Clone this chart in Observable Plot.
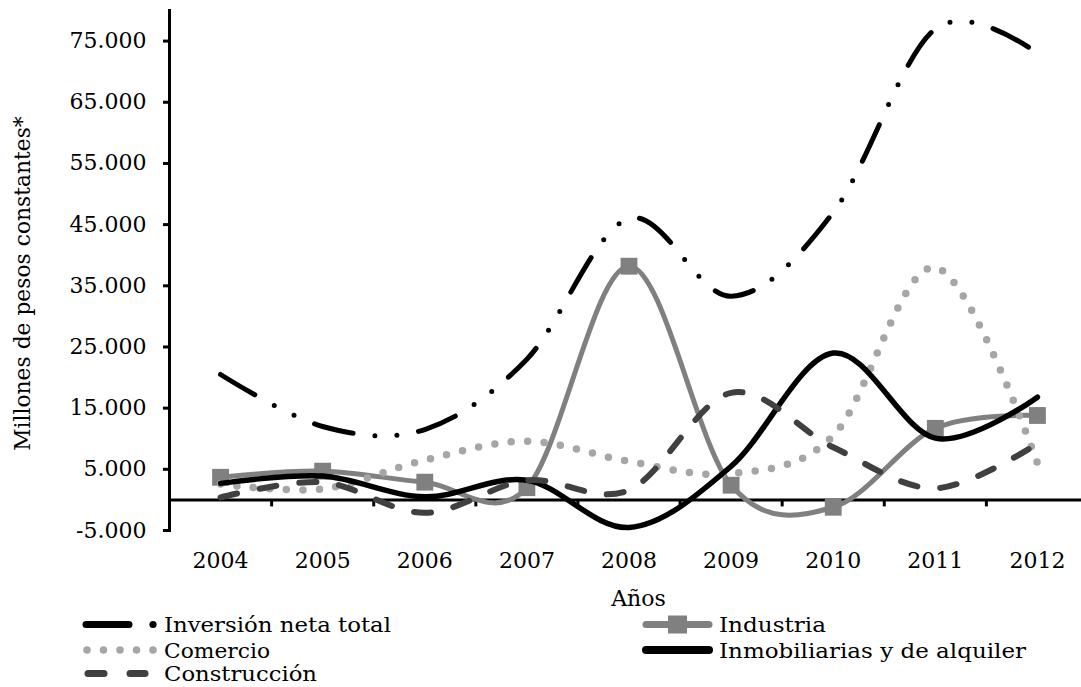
<!DOCTYPE html>
<html><head><meta charset="utf-8">
<script src="https://cdn.jsdelivr.net/npm/d3@7"></script>
<script src="https://cdn.jsdelivr.net/npm/@observablehq/plot@0.6"></script>
<style>
body{margin:0;background:#fff;}
#chart svg{display:block;}
</style></head><body><div id="chart"></div>
<script>
// ---- Data (millones de pesos constantes) ----
const years = [2004, 2005, 2006, 2007, 2008, 2009, 2010, 2011, 2012];
const inversionNetaTotal = [20500, 12000, 11500, 23000, 46000, 33300, 47000, 77000, 73000];
const industria = [3700, 4700, 2900, 2000, 38200, 2400, -1200, 11700, 13800];
const comercio = [2600, 1800, 6500, 9600, 6300, 4300, 10500, 38000, 6000];
const inmobiliarias = [2700, 3900, 500, 3200, -4500, 5500, 24000, 10100, 16800];
const construccion = [400, 2900, -2100, 3200, 1600, 17500, 8600, 1900, 9200];
const seriesNames = ["Inversión neta total", "Industria", "Comercio", "Inmobiliarias y de alquiler", "Construcción"];
const yTickValues = [-5000, 5000, 15000, 25000, 35000, 45000, 55000, 65000, 75000];
const yTickLabels = ["-5.000", "5.000", "15.000", "25.000", "35.000", "45.000", "55.000", "65.000", "75.000"];
const xTitle = "Años";
const yTitle = "Millones de pesos constantes*";

const toRows = (vals) => years.map((year, i) => ({year, value: vals[i]}));
const boundaries = years.slice(1).map(y => y - 0.5);
const FONT = "DejaVu Serif";

const chart = Plot.plot({
  width: 1081, height: 612,
  marginLeft: 169, marginTop: 10, marginBottom: 82, marginRight: 0,
  style: {fontFamily: FONT, background: "#fff", color: "#000", overflow: "visible"},
  x: {type: "linear", domain: [2003.5, 2012.5], range: [169, 1088]},
  y: {domain: [-5000, 80000]},
  marks: [
    Plot.ruleY([0], {stroke: "#000", strokeWidth: 3}),
    Plot.ruleX(boundaries, {y1: 0, y2: 0, insetBottom: -7, stroke: "#000", strokeWidth: 3}),
    Plot.frame({anchor: "left", stroke: "#000", strokeWidth: 3}),
    Plot.axisY({ticks: yTickValues, tickFormat: d => yTickLabels[yTickValues.indexOf(d)], tickSize: 6, tickPadding: 17, fontSize: 22, strokeWidth: 3, label: null}),
    Plot.axisX({ticks: years, tickFormat: d => String(d), tickSize: 0, tickPadding: 22, fontSize: 22, label: null}),
    Plot.text([xTitle], {frameAnchor: "bottom", dx: 13, dy: 75, lineAnchor: "bottom", fontSize: 22, text: d => d}),
    Plot.text([yTitle], {frameAnchor: "left", textAnchor: "middle", lineAnchor: "middle", dx: -146, dy: 13, rotate: -90, fontSize: 21.8, text: d => d}),
    // series
    Plot.line(toRows(inversionNetaTotal), {x: "year", y: "value", curve: "cardinal", stroke: "#000", strokeWidth: 5, strokeDasharray: "40,22,0,22,0,22", strokeLinecap: "round"}),
    Plot.line(toRows(industria), {x: "year", y: "value", curve: "cardinal", stroke: "#808080", strokeWidth: 5}),
    Plot.dot(toRows(industria), {x: "year", y: "value", symbol: "square", r: 9.5, fill: "#808080"}),
    Plot.line(toRows(comercio), {x: "year", y: "value", curve: "cardinal", stroke: "#A6A6A6", strokeWidth: 7.5, strokeDasharray: "0,16.5", strokeLinecap: "round"}),
    Plot.line(toRows(inmobiliarias), {x: "year", y: "value", curve: "cardinal", stroke: "#000", strokeWidth: 5.5}),
    Plot.line(toRows(construccion), {x: "year", y: "value", curve: "cardinal", stroke: "#404040", strokeWidth: 6, strokeDasharray: "17,23", strokeLinecap: "round"})
  ]
});
document.getElementById("chart").appendChild(chart);

// ---- Legend (below the plot) ----
const ns = "http://www.w3.org/2000/svg";
const leg = d3.select("#chart").append("svg").attr("xmlns", ns)
  .attr("width", 1081).attr("height", 75).style("display", "block").style("font-family", FONT);
const rowY = [12.5, 38, 61.5];
const textW = [227, 107, 106, 307, 153];
const pos = [[0, 0], [1, 0], [0, 1], [1, 1], [0, 2]];
pos.forEach(([col, row], i) => {
  const y = rowY[row];
  const g = leg.append("g");
  if (i === 0) {
    g.append("line").attr("x1", 86).attr("x2", 129).attr("y1", y).attr("y2", y).attr("stroke", "#000").attr("stroke-width", 7).attr("stroke-linecap", "round");
    g.append("circle").attr("cx", 153).attr("cy", y).attr("r", 3.6).attr("fill", "#000");
  } else if (i === 1) {
    g.append("line").attr("x1", 646).attr("x2", 709).attr("y1", y).attr("y2", y).attr("stroke", "#808080").attr("stroke-width", 7).attr("stroke-linecap", "round");
    g.append("rect").attr("x", 668).attr("y", y - 9).attr("width", 19).attr("height", 18).attr("fill", "#808080");
  } else if (i === 2) {
    [87, 103.5, 120, 136.5, 153].forEach(cx => g.append("circle").attr("cx", cx).attr("cy", y).attr("r", 3.8).attr("fill", "#A6A6A6"));
  } else if (i === 3) {
    g.append("line").attr("x1", 646).attr("x2", 709).attr("y1", y).attr("y2", y).attr("stroke", "#000").attr("stroke-width", 8).attr("stroke-linecap", "round");
  } else {
    g.append("line").attr("x1", 88).attr("x2", 104).attr("y1", y).attr("y2", y).attr("stroke", "#404040").attr("stroke-width", 7).attr("stroke-linecap", "round");
    g.append("line").attr("x1", 130).attr("x2", 145).attr("y1", y).attr("y2", y).attr("stroke", "#404040").attr("stroke-width", 7).attr("stroke-linecap", "round");
  }
  g.append("text").attr("x", col === 0 ? 164 : 719).attr("y", y + 7.5)
    .attr("font-size", 21).attr("fill", "#000")
    .attr("textLength", textW[i]).attr("lengthAdjust", "spacingAndGlyphs")
    .text(seriesNames[i]);
});
</script></body></html>
